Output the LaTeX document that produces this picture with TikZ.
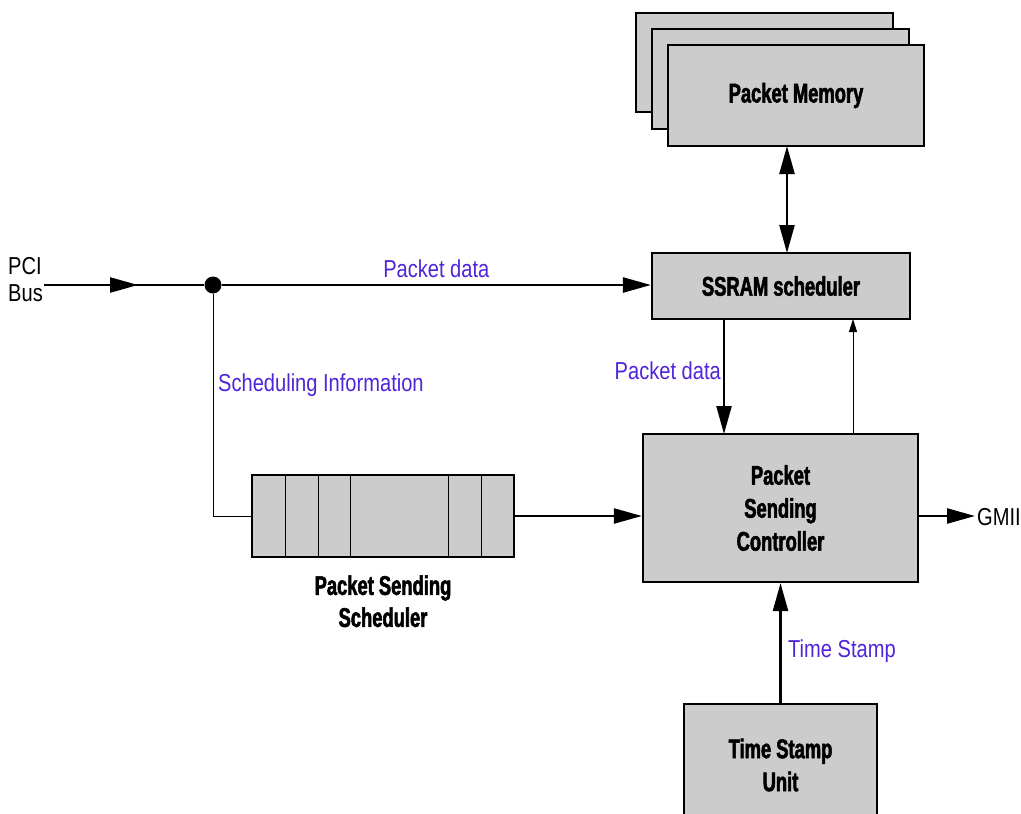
\documentclass[tikz,border=0pt]{standalone}
\usepackage{fontspec}
\setmainfont{Liberation Sans}
\newfontfamily\blockfont{Liberation Sans Bold}[FakeStretch=0.68,FakeBold=2]
\newfontfamily\labelfont{Liberation Sans}[FakeStretch=0.82]
\usetikzlibrary{arrows.meta,positioning}
\definecolor{boxgray}{RGB}{204,204,204}
\definecolor{labelblue}{RGB}{80,36,216}
\tikzset{
  block/.style={draw, line width=2.2pt, fill=boxgray, font=\blockfont\fontsize{27}{33}\selectfont,
    align=center, inner sep=0pt},
  blocktext/.style={font=\blockfont\fontsize{27}{32}\selectfont, align=center, inner sep=0pt},
  bluelabel/.style={font=\labelfont\fontsize{24.5}{29}\selectfont, text=labelblue, inner sep=0pt},
  blacklabel/.style={font=\labelfont\fontsize{24.5}{27}\selectfont, inner sep=0pt, align=left},
  bus/.style={line width=2.4pt},
  thinline/.style={line width=1pt},
  bigtip/.style={-{Triangle[length=28pt,width=15pt]}},
  bothtips/.style={{Triangle[length=28pt,width=15pt]}-{Triangle[length=28pt,width=15pt]}},
  smalltip/.style={-{Triangle[length=13pt,width=8pt]}},
}
\begin{document}
\begin{tikzpicture}[x=1pt,y=-1pt]
\useasboundingbox (0,0) rectangle (1021,814);

% packet memory stack
\node[block, minimum width=257, minimum height=99] (mem3) at (764.5,62.5) {};
\node[block, minimum width=257, minimum height=100] (mem2) at (780.5,79) {};
\node[block, minimum width=256, minimum height=101] (mem) at (796,95.5) {Packet Memory};

% main blocks
\node[block, minimum width=258, minimum height=66] (ssram) at (781,286) {SSRAM scheduler};
\node[block, minimum width=275, minimum height=148] (psc) at (780.5,508) {Packet\\Sending\\Controller};
\node[block, minimum width=193, minimum height=122] (tsu) at (780.5,765) {Time Stamp\\Unit};

% scheduler queue
\node[draw, line width=2.2pt, fill=boxgray, minimum width=262, minimum height=82, inner sep=0pt] (pss) at (383,516) {};
\foreach \cx in {285,318,350,448,481}
  \draw[thinline] (\cx,475) -- (\cx,557);
\node[blocktext, below=17pt of pss] (psslabel) {Packet Sending\\Scheduler};

% PCI bus input and branch point
\node[blacklabel, anchor=north west] (pci) at (8,257) {PCI\\Bus};
\coordinate (pcistart) at (44,285);
\coordinate (pcimid) at (138,285);
\node[circle, fill, inner sep=0pt, minimum size=17] (dot) at (213,285) {};
\draw[bus] (pcistart) -- (dot);
\draw[bus, bigtip] (pcistart) -- (pcimid);
\draw[bus, bigtip] (dot) -- (ssram.west |- dot) node[bluelabel, pos=0.5, above=6pt] {Packet data};

% scheduling information path
\coordinate (corner) at (213,516);
\draw[thinline] (dot) -- (corner) -- (pss.west);
\node[bluelabel, anchor=west] (schedinfo) at (218,385) {Scheduling Information};

% scheduler to controller
\draw[bus, bigtip] (pss.east) -- (psc.west |- pss.east);

% memory <-> ssram
\draw[bus, bothtips] (787,146) -- (787,253);

% ssram <-> controller
\draw[bus, bigtip] (724,319) -- (724,434);
\node[bluelabel, anchor=east] (pdata2) at (721,371) {Packet data};
\draw[thinline, smalltip] (853,434) -- (853,319);

% output
\coordinate (gmiitip) at (975,516);
\draw[bus, bigtip] (psc.east |- gmiitip) -- (gmiitip);
\node[blacklabel, anchor=west] (gmii) at (977,517) {GMII};

% time stamp
\draw[bus, bigtip] (tsu.north) -- (psc.south);
\node[bluelabel, anchor=west] (tslabel) at (788,651) {Time Stamp};
\end{tikzpicture}
\end{document}
